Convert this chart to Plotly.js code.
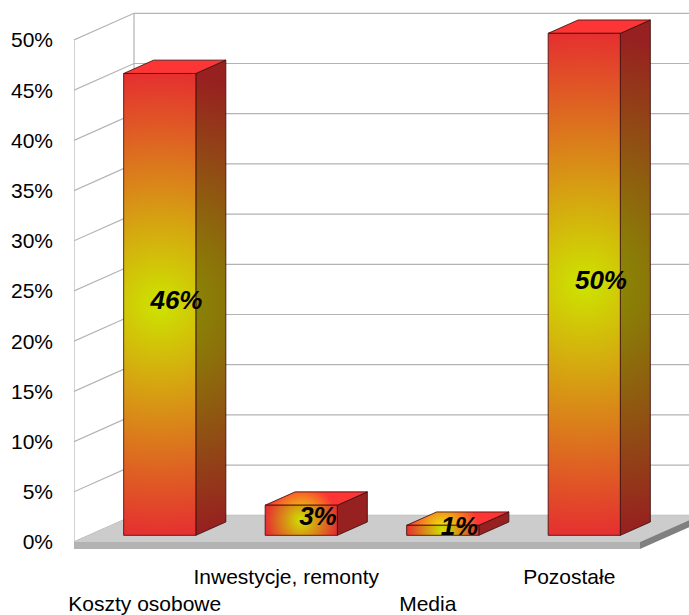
<!DOCTYPE html>
<html><head><meta charset="utf-8">
<script src="https://cdn.plot.ly/plotly-3.0.1.min.js"></script>
<style>html,body{margin:0;padding:0;background:#fff}</style>
</head><body><div id="chart" style="width:689px;height:615px"></div>
<script>
const categories = ["<br>Koszty osobowe", "Inwestycje, remonty", "<br>Media", "Pozostałe"];
const shares = [46, 3, 1, 50];
const yTicks = [0, 5, 10, 15, 20, 25, 30, 35, 40, 45, 50];
const yTickLabels = ["0%", "5%", "10%", "15%", "20%", "25%", "30%", "35%", "40%", "45%", "50%"];

const W = 689, H = 615, L = 74, B = 60;
const pxPerCat = 141.5, pxPerPct = 10.04;
const DEPTH_X = 60 / pxPerCat, DEPTH_Y = 26.7 / pxPerPct;
const xMax = -0.5 + (W - L) / pxPerCat;
const yMin = -(H - B - 542) / pxPerPct, yMax = 542 / pxPerPct;
const xEnd = 3.5;
const BAR = 0.51, D0 = 0.25, D1 = 0.75;
const SLAB = 0.7, LABEL_DROP = 0.48, LABEL_SHIFT = 0.012;

const pt = (c, v, d) => [c + d * DEPTH_X, v + d * DEPTH_Y];
function poly(points, o) {
  const p = points.concat([points[0]]);
  return Object.assign({
    x: p.map(a => a[0]), y: p.map(a => a[1]), type: 'scatter', mode: 'lines',
    fill: 'toself', hoverinfo: 'skip', showlegend: false
  }, o);
}
const traces = [];
// walls and grid
const gx = [], gy = [];
yTicks.forEach(v => {
  [pt(-0.5, v, 0), pt(-0.5, v, 1), [xMax, v + DEPTH_Y]].forEach(a => { gx.push(a[0]); gy.push(a[1]); });
  gx.push(null); gy.push(null);
});
[0, 1].forEach(d => {
  const top = yTicks[yTicks.length - 1];
  [pt(-0.5, 0, d), pt(-0.5, top, d)].forEach(a => { gx.push(a[0]); gy.push(a[1]); });
  gx.push(null); gy.push(null);
});
traces.push({x: gx, y: gy, type: 'scatter', mode: 'lines', line: {color: '#b3b3b3', width: 1.2}, hoverinfo: 'skip', showlegend: false, connectgaps: false});
// floor
traces.push(poly([pt(-0.5,0,0), pt(xEnd,0,0), pt(xEnd,0,1), pt(-0.5,0,1)], {fillcolor: '#cccccc', line: {width: 0}}));
traces.push(poly([pt(-0.5,0,0), pt(xEnd,0,0), pt(xEnd,-SLAB,0), pt(-0.5,-SLAB,0)], {fillcolor: '#b3b3b3', line: {width: 0}}));
traces.push(poly([pt(xEnd,0,0), pt(xEnd,0,1), pt(xEnd,-SLAB,1), pt(xEnd,-SLAB,0)], {fillcolor: '#808080', line: {width: 0}}));
// bars
const scale = f => [[0, `rgb(${205*f},${228*f},0)`], [1, `rgb(${Math.min(255,229*f)},${48*f},${48*f})`]];
const edge = {color: 'rgba(60,15,15,0.85)', width: 1};
const circles = [];
shares.forEach((v, i) => {
  const a = i - BAR / 2, b = i + BAR / 2;
  const faces = [
    ['side', [pt(b,0,D0), pt(b,0,D1), pt(b,v,D1), pt(b,v,D0)], 0.66],
    ['top', [pt(a,v,D0), pt(b,v,D0), pt(b,v,D1), pt(a,v,D1)], 1.11],
    ['front', [pt(a,0,D0), pt(b,0,D0), pt(b,v,D0), pt(a,v,D0)], 1]
  ];
  faces.forEach(([n, pts, f]) => {
    const uid = `bar${i}${n}`;
    traces.push(poly(pts, {uid, line: edge, fillgradient: {type: 'radial', colorscale: scale(f)}}));
    circles.push({uid, i, v});
  });
});
// value labels
traces.push({
  x: shares.map((v, i) => pt(i, v / 2, 0.5)[0] + LABEL_SHIFT),
  y: shares.map((v, i) => pt(i, v / 2, 0.5)[1] - LABEL_DROP),
  text: shares.map(v => v + '%'),
  type: 'scatter', mode: 'text', textposition: 'middle center', hoverinfo: 'skip', showlegend: false,
  textfont: {family: 'Liberation Sans, Arial, sans-serif', size: 26, color: '#000', style: 'italic', weight: 'bold'}
});

const layout = {
  width: W, height: H, showlegend: false, paper_bgcolor: '#fff', plot_bgcolor: 'rgba(0,0,0,0)',
  margin: {l: L, r: 0, t: 0, b: B, pad: 0},
  font: {family: 'Liberation Sans, Arial, sans-serif', size: 21, color: '#000'},
  xaxis: {range: [-0.5, xMax], tickmode: 'array', tickvals: categories.map((c, i) => i), ticktext: categories,
    showgrid: false, zeroline: false, showline: false, ticks: '', ticklabelstandoff: 7, tickangle: 0, fixedrange: true,
    tickfont: {size: 21}},
  yaxis: {range: [yMin, yMax], tickmode: 'array', tickvals: yTicks, ticktext: yTickLabels,
    showgrid: false, zeroline: false, showline: false, ticks: '', ticklabelstandoff: 20, fixedrange: true,
    tickfont: {size: 21}}
};
const gd = document.getElementById('chart');
Plotly.newPlot(gd, traces, layout, {displayModeBar: false, staticPlot: true, responsive: false}).then(() => {
  const xa = gd._fullLayout.xaxis, ya = gd._fullLayout.yaxis;
  circles.forEach(({uid, i, v}) => {
    const g = Array.from(gd.querySelectorAll('radialGradient')).find(e => e.id.endsWith('scatterfill-' + uid));
    if (!g) return;
    const c = pt(i, v / 2, D0);
    const cx = xa.l2p(c[0]), cy = ya.l2p(c[1]);
    const w = Math.abs(xa.l2p(BAR) - xa.l2p(0)), h = Math.abs(ya.l2p(v) - ya.l2p(0));
    g.setAttribute('gradientUnits', 'userSpaceOnUse');
    g.setAttribute('cx', cx); g.setAttribute('cy', cy); g.setAttribute('fx', cx); g.setAttribute('fy', cy);
    g.setAttribute('r', Math.max(w, h) / 2);
  });
});
</script></body></html>
